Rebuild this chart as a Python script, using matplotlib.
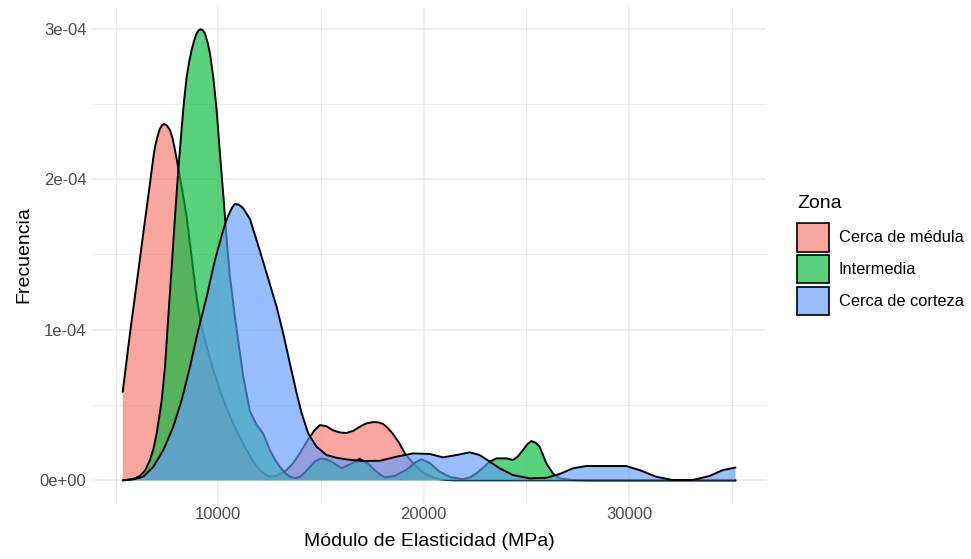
import numpy as np
import matplotlib
matplotlib.use("Agg")
import matplotlib.pyplot as plt
from matplotlib.patches import Patch
from matplotlib.colors import to_rgba

plt.rcParams['font.family'] = ['Liberation Sans', 'DejaVu Sans']

# ---- data: x = MPa, y = density in units of 1e-4
zonas = ["Cerca de médula", "Intermedia", "Cerca de corteza"]
colores = ["#F8766D", "#00BA38", "#619CFF"]

x_medula = [5343, 5698, 6024, 6345, 6672, 6820, 6915, 7050, 7158, 7260, 7367, 7500, 7645, 7770,
            7888, 8049, 8250, 8457, 8700, 8944, 9180, 9431, 9750, 10078, 10400, 10710, 11050,
            11377, 11700, 12024, 12270, 12511, 12800, 13050, 13324, 13650, 13971, 14458, 14700,
            14944, 15250, 15577, 15900, 16243, 16560, 16891, 17200, 17538, 17800, 18024, 18250,
            18511, 18800, 19080, 19350, 19616, 19900, 20200, 20500, 20783, 21100, 21513, 35187]
y_medula = [0.588, 0.978, 1.310, 1.642, 1.974, 2.130, 2.215, 2.290, 2.335, 2.358, 2.366, 2.355,
            2.326, 2.270, 2.193, 2.074, 1.920, 1.750, 1.480, 1.211, 1.020, 0.887, 0.735, 0.600,
            0.480, 0.381, 0.285, 0.201, 0.125, 0.068, 0.040, 0.024, 0.030, 0.045, 0.068, 0.115,
            0.181, 0.290, 0.335, 0.367, 0.360, 0.333, 0.318, 0.314, 0.328, 0.356, 0.378, 0.387,
            0.385, 0.374, 0.348, 0.307, 0.250, 0.181, 0.135, 0.095, 0.062, 0.035, 0.018, 0.007,
            0.002, 0.0, 0.0]

x_inter = [5343, 5844, 6185, 6450, 6672, 6850, 6998, 7120, 7241, 7401, 7562, 7727, 7888, 8049,
           8214, 8330, 8457, 8580, 8701, 8820, 8944, 9040, 9139, 9240, 9348, 9470, 9591, 9752,
           9917, 10078, 10238, 10404, 10565, 10891, 11212, 11538, 11860, 12185, 12511, 12750,
           12997, 13240, 13484, 13750, 13971, 14200, 14458, 14700, 15000, 15250, 15500, 16000,
           16450, 16891, 17300, 17700, 18100, 18600, 19163, 19600, 19893, 20300, 20783, 21300,
           21917, 22250, 22569, 22900, 23217, 23543, 24029, 24350, 24600, 24837, 25050, 25246,
           25450, 25650, 25976, 26297, 26623, 27255, 28083, 35187]
y_inter = [0.0, 0.009, 0.029, 0.070, 0.135, 0.215, 0.314, 0.420, 0.532, 0.754, 1.086, 1.418,
           1.750, 2.060, 2.339, 2.520, 2.680, 2.780, 2.857, 2.920, 2.968, 2.988, 2.995, 2.988,
           2.968, 2.910, 2.835, 2.678, 2.459, 2.171, 1.900, 1.600, 1.350, 1.000, 0.690, 0.460,
           0.370, 0.310, 0.201, 0.140, 0.090, 0.050, 0.024, 0.015, 0.024, 0.050, 0.090, 0.125,
           0.145, 0.140, 0.125, 0.080, 0.110, 0.143, 0.110, 0.057, 0.019, 0.030, 0.070, 0.120,
           0.140, 0.115, 0.057, 0.022, 0.007, 0.020, 0.046, 0.085, 0.124, 0.146, 0.146, 0.135,
           0.160, 0.201, 0.240, 0.261, 0.250, 0.223, 0.113, 0.046, 0.013, 0.002, 0.0, 0.0]

x_corteza = [5343, 5850, 6345, 6832, 7319, 7805, 8214, 8618, 9022, 9431, 9835, 10238, 10400,
             10565, 10690, 10808, 10950, 11080, 11212, 11538, 11864, 12350, 12837, 13158, 13484,
             13810, 14054, 14375, 14783, 15270, 15750, 16243, 17051, 17864, 18676, 19484, 20297,
             20944, 21596, 22243, 22730, 23217, 23703, 24350, 25163, 25976, 26623, 27270, 27922,
             28895, 29868, 30516, 31328, 32136, 33109, 33922, 34569, 35187]
y_corteza = [0.0, 0.006, 0.024, 0.090, 0.201, 0.356, 0.533, 0.754, 0.998, 1.219, 1.463, 1.662,
             1.730, 1.782, 1.815, 1.835, 1.832, 1.822, 1.806, 1.735, 1.594, 1.375, 1.153, 0.976,
             0.777, 0.580, 0.447, 0.312, 0.223, 0.168, 0.150, 0.139, 0.128, 0.130, 0.157, 0.179,
             0.175, 0.153, 0.168, 0.186, 0.168, 0.124, 0.080, 0.035, 0.013, 0.017, 0.042, 0.080,
             0.095, 0.095, 0.095, 0.068, 0.024, 0.002, 0.002, 0.029, 0.068, 0.085]

x_ticks = [10000, 20000, 30000]
x_ticklabels = ["10000", "20000", "30000"]
y_ticks = [0.0, 1e-4, 2e-4, 3e-4]
y_ticklabels = ["0e+00", "1e-04", "2e-04", "3e-04"]

series = [(x_medula, y_medula), (x_inter, y_inter), (x_corteza, y_corteza)]

# ---- figure
fig = plt.figure(figsize=(9.71, 5.59), dpi=100)
W, H = 971, 559
ax = fig.add_axes([92.1 / W, 1 - 502.9 / H, (766.1 - 92.1) / W, (502.9 - 6.7) / H])

alpha = 0.65
z = 2
for (xs, ys), col in zip(series, colores):
    xs = np.asarray(xs, float)
    ys = np.asarray(ys, float) * 1e-4
    ax.fill_between(xs, 0, ys, facecolor=to_rgba(col, alpha), edgecolor='none', zorder=z)
    ax.plot(xs, ys, color='black', lw=1.4, zorder=z + 0.5,
            solid_joinstyle='round', solid_capstyle='round')
    z += 1

# limits with ggplot-like 5% expansion
all_x = np.concatenate([np.asarray(s[0], float) for s in series])
all_y = np.concatenate([np.asarray(s[1], float) * 1e-4 for s in series])
xr = all_x.max() - all_x.min()
ax.set_xlim(all_x.min() - 0.05 * xr, all_x.max() + 0.05 * xr)
yr = all_y.max() - 0
ax.set_ylim(0 - 0.05 * yr, all_y.max() + 0.05 * yr)

ax.set_xticks(x_ticks)
ax.set_xticklabels(x_ticklabels)
ax.set_xticks([5000, 15000, 25000, 35000], minor=True)
ax.set_yticks(y_ticks)
ax.set_yticklabels(y_ticklabels)
ax.set_yticks([0.5e-4, 1.5e-4, 2.5e-4], minor=True)

ax.grid(which='major', color='#EBEBEB', lw=1.1, zorder=0)
ax.grid(which='minor', color='#EBEBEB', lw=0.6, zorder=0)
ax.set_axisbelow(True)
for s in ax.spines.values():
    s.set_visible(False)
ax.tick_params(which='both', length=0)
ax.tick_params(axis='x', labelsize=12, labelcolor='#4D4D4D', pad=3)
ax.tick_params(axis='y', labelsize=12, labelcolor='#4D4D4D', pad=4)

ax.set_xlabel("Módulo de Elasticidad (MPa)", fontsize=14, color='black', labelpad=8)
ax.set_ylabel("Frecuencia", fontsize=14, color='black', labelpad=5)

handles = [Patch(facecolor=to_rgba(c, alpha), edgecolor='black', linewidth=1.2) for c in colores]
leg = fig.legend(handles, zonas, title="Zona", loc='upper left',
                 bbox_to_anchor=(797 / W, 1 - 195 / H), frameon=False,
                 fontsize=11.8, title_fontsize=14, alignment='left',
                 handlelength=1.95, handleheight=2.3, handletextpad=0.6,
                 labelspacing=0.2, borderpad=0, borderaxespad=0)
leg._legend_box.sep = 8.0  # extra gap between title and keys

fig.savefig("out.png", dpi=100, facecolor='white')
